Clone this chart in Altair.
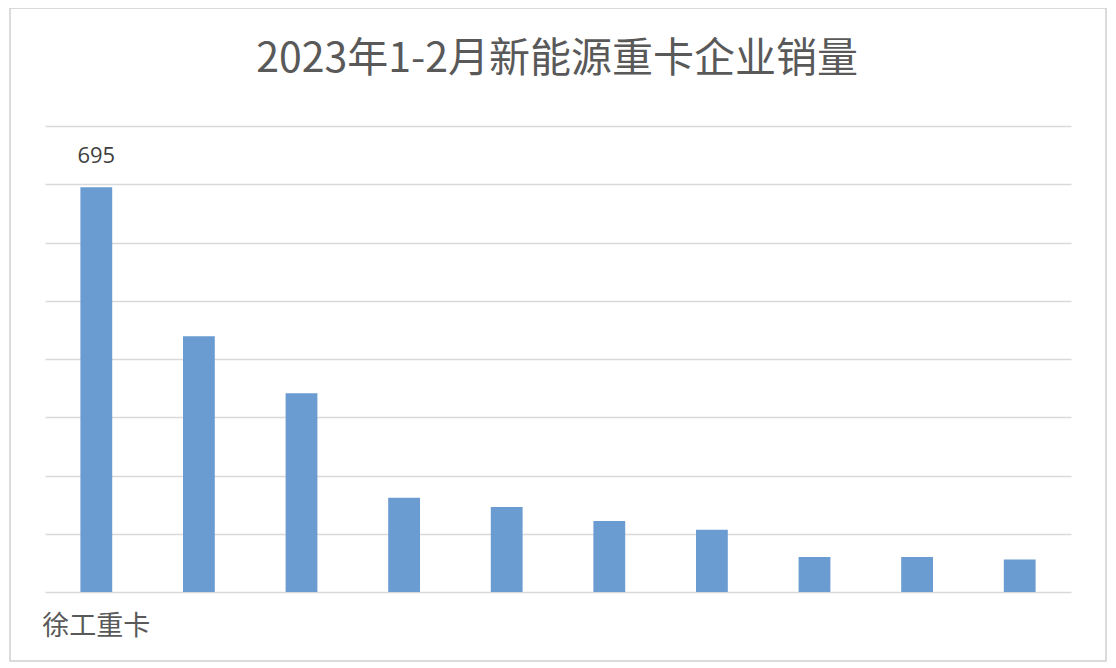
import altair as alt
import pandas as pd

title_text = "2023年1-2月新能源重卡企业销量"
companies = ["徐工重卡", "三一重卡", "远程", "宇通", "解放", "福田", "重汽", "东风", "陕汽", "北奔"]
sales = [695, 439, 341, 162, 146, 122, 107, 60, 60, 56]
label_companies = ["徐工重卡"]
y_ticks = [0, 100, 200, 300, 400, 500, 600, 700, 800]

df = pd.DataFrame({"company": companies, "sales": sales})

x_enc = alt.X(
    "company:N",
    sort=companies,
    scale=alt.Scale(paddingInner=0.69, paddingOuter=0.345),
    axis=alt.Axis(
        title=None, domain=False, ticks=False, labelAngle=0, grid=False,
        labelFontSize=27, labelColor="#595959", labelFont="Noto Sans CJK SC",
        labelPadding=21, labelBaseline="top",
        labelExpr="datum.value == '徐工重卡' ? datum.label : ''",
    ),
)
y_enc = alt.Y(
    "sales:Q",
    scale=alt.Scale(domain=[0, 800], nice=False),
    axis=alt.Axis(
        title=None, values=y_ticks, labels=False, ticks=False, domain=False,
        grid=True, gridColor="#D9D9D9", gridWidth=1.6,
    ),
)

frame = alt.Chart(pd.DataFrame({"f": [1]})).mark_rect(
    fill=None, stroke="#D0D0D0", strokeWidth=1.5, clip=False
).encode(
    x=alt.value(-35), x2=alt.value(1061), y=alt.value(-118), y2=alt.value(535)
)

title = alt.Chart(pd.DataFrame({"t": [title_text]})).mark_text(
    fontSize=41, font="Noto Sans CJK SC", color="#595959",
    align="center", baseline="middle",
).encode(x=alt.value(512), y=alt.value(-66), text="t:N")

bars = alt.Chart(df).mark_bar(color="#6A9BD1").encode(x=x_enc, y=y_enc)

labels = alt.Chart(df).transform_filter(
    alt.FieldOneOfPredicate(field="company", oneOf=label_companies)
).mark_text(
    baseline="bottom", dy=-19, fontSize=22, color="#404040", font="Open Sans"
).encode(
    x=alt.X("company:N", sort=companies),
    y=alt.Y("sales:Q"),
    text="sales:Q",
)

chart = alt.layer(frame, title, bars, labels).properties(
    width=1026,
    height=466,
    background="white",
    autosize=alt.AutoSizeParams(type="none"),
    padding={"left": 37, "top": 118, "right": 37, "bottom": 72},
).configure_view(strokeWidth=0, stroke="transparent")

chart.save("out.html", embed_options={"renderer": "svg", "actions": False})
